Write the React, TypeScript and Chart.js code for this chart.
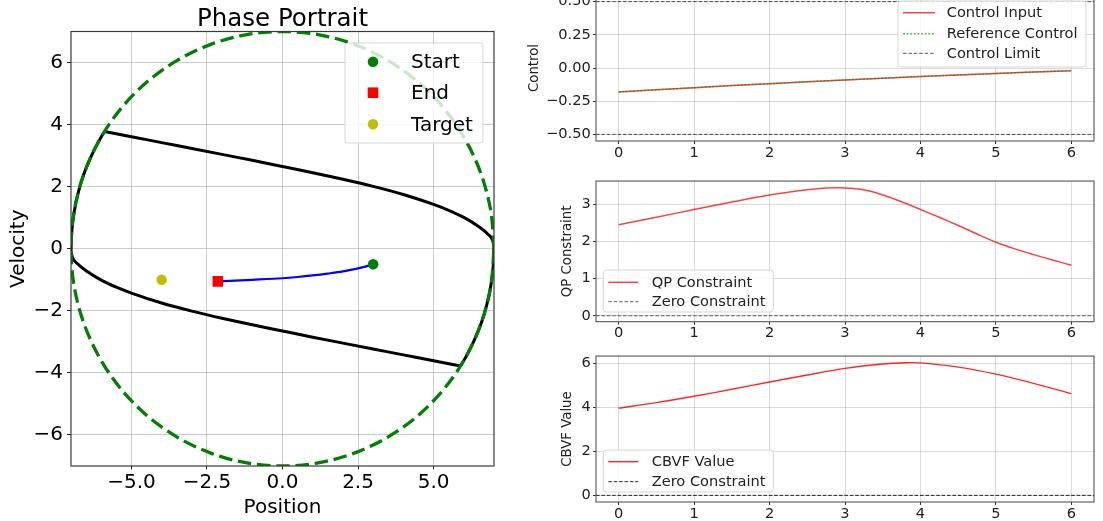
import React, { useEffect, useRef } from 'react';
import { Chart, registerables } from 'chart.js';

Chart.register(...registerables);

const FONT = "'DejaVu Sans', 'Liberation Sans', sans-serif";
Chart.defaults.font.family = FONT;

// ---------- Phase portrait (position, velocity) ----------
const START_STATE = [3.0, -0.5];
const END_STATE = [-2.14, -1.05];
const TARGET_STATE = [-4.0, -1.0];

// Closed-loop trajectory (listed by increasing position)
const TRAJ_POS = [-2.14, -1.0, 0.0, 0.5, 1.0, 1.5, 2.0, 2.5, 2.8, 3.0];
const TRAJ_VEL = [-1.05, -1.0, -0.95, -0.91, -0.86, -0.8, -0.73, -0.63, -0.56, -0.5];

// Safe-set boundary, upper branch
const UPPER_POS = [-5.89, -5, -4, -3, -2, -1, 0, 1, 2, 3, 4, 5, 5.5, 6, 6.5, 6.8, 6.95, 7.0];
const UPPER_VEL = [3.78, 3.61, 3.42, 3.23, 3.04, 2.85, 2.65, 2.45, 2.24, 2.01, 1.75, 1.43, 1.24, 1.01, 0.71, 0.47, 0.28, 0.1];
// Safe-set boundary, lower branch
const LOWER_POS = [-7.0, -6.95, -6.8, -6.5, -6, -5.5, -5, -4, -3, -2, -1, 0, 1, 2, 3, 4, 5, 5.89];
const LOWER_VEL = [-0.1, -0.28, -0.47, -0.71, -1.01, -1.24, -1.43, -1.75, -2.01, -2.24, -2.45, -2.65, -2.85, -3.04, -3.23, -3.42, -3.61, -3.78];
// Parts of the boundary lying on the constraint circle
const ARC_R_POS = [7.0, 6.97, 6.89, 6.76, 6.58, 6.34, 6.06, 5.89];
const ARC_R_VEL = [0.1, -0.61, -1.22, -1.81, -2.39, -2.96, -3.5, -3.78];
const ARC_L_POS = [-7.0, -6.97, -6.89, -6.76, -6.58, -6.34, -6.06, -5.89];
const ARC_L_VEL = [-0.1, 0.61, 1.22, 1.81, 2.39, 2.96, 3.5, 3.78];

// State constraint circle (radius 7), every 10 degrees
const CIRCLE_POS = [7, 6.894, 6.578, 6.062, 5.362, 4.5, 3.5, 2.394, 1.216, 0, -1.216, -2.394, -3.5, -4.5, -5.362, -6.062, -6.578, -6.894, -7, -6.894, -6.578, -6.062, -5.362, -4.5, -3.5, -2.394, -1.216, 0, 1.216, 2.394, 3.5, 4.5, 5.362, 6.062, 6.578, 6.894, 7];
const CIRCLE_VEL = [0, 1.216, 2.394, 3.5, 4.5, 5.362, 6.062, 6.578, 6.894, 7, 6.894, 6.578, 6.062, 5.362, 4.5, 3.5, 2.394, 1.216, 0, -1.216, -2.394, -3.5, -4.5, -5.362, -6.062, -6.578, -6.894, -7, -6.894, -6.578, -6.062, -5.362, -4.5, -3.5, -2.394, -1.216, 0];

const POS_RANGE = [-7, 7];
const VEL_RANGE = [-7, 7];
const POS_TICKS = [-5, -2.5, 0, 2.5, 5];
const VEL_TICKS = [-6, -4, -2, 0, 2, 4, 6];

// ---------- Time histories ----------
const CTRL_T = [0, 1, 2, 3, 4, 5, 6];
const CTRL_U = [-0.18, -0.148, -0.118, -0.09, -0.064, -0.041, -0.02];
const REF_U = [-0.18, -0.148, -0.118, -0.09, -0.064, -0.041, -0.02];
const U_LIMIT = 0.5;

const QP_T = [0, 0.5, 1, 1.5, 2, 2.5, 2.75, 3, 3.25, 3.5, 3.75, 4, 4.25, 4.5, 4.75, 5, 5.25, 5.5, 5.75, 6];
const QP_V = [2.45, 2.65, 2.86, 3.06, 3.25, 3.39, 3.435, 3.44, 3.39, 3.25, 3.07, 2.86, 2.65, 2.43, 2.2, 1.98, 1.8, 1.645, 1.5, 1.36];

const CBVF_T = [0, 0.5, 1, 1.5, 2, 2.5, 3, 3.5, 3.8, 4, 4.5, 5, 5.5, 6];
const CBVF_V = [3.97, 4.22, 4.51, 4.83, 5.16, 5.48, 5.78, 5.98, 6.04, 6.03, 5.84, 5.52, 5.1, 4.63];

const T_RANGE = [-0.3, 6.3];
const TIME_TICKS = [0, 1, 2, 3, 4, 5, 6];
const CTRL_RANGE = [-0.55, 0.55];
const CTRL_TICKS = [-0.5, -0.25, 0, 0.25, 0.5];
const QP_RANGE = [-0.16, 3.625];
const QP_TICKS = [0, 1, 2, 3];
const CBVF_RANGE = [-0.302, 6.342];
const CBVF_TICKS = [0, 2, 4, 6];

// ---------- helpers ----------
const pts = (xs: number[], ys: number[]) => xs.map((x, i) => ({ x, y: ys[i] }));
const hline = (v: number) => [{ x: T_RANGE[0], y: v }, { x: T_RANGE[1], y: v }];
const minus = (s: string) => s.replace('-', '\u2212');

const fixedTicks = (values: number[]) => (scale: any) => {
  scale.ticks = values.map((value) => ({ value }));
};

// Full rectangular axes frame drawn above the data
const framePlugin = (color: string, width: number) => ({
  id: 'frame',
  afterDatasetsDraw(chart: any) {
    const { ctx, chartArea: a } = chart;
    ctx.save();
    ctx.strokeStyle = color;
    ctx.lineWidth = width;
    ctx.strokeRect(a.left, a.top, a.right - a.left, a.bottom - a.top);
    ctx.restore();
  },
});

type LegendLayout = {
  x: number; y: number; w: number; h: number;
  sampleX: number; sampleW: number; textX: number;
  rows: number[]; fontSize: number; textColor: string; textShift: number;
};

// Boxed legend built from the chart's own datasets
const boxLegend = (indices: number[], lay: LegendLayout) => ({
  id: 'boxLegend',
  afterDraw(chart: any) {
    const ctx: CanvasRenderingContext2D = chart.ctx;
    const sets = chart.data.datasets;
    ctx.save();
    const r = 3;
    const { x, y, w, h } = lay;
    ctx.beginPath();
    ctx.moveTo(x + r, y);
    ctx.arcTo(x + w, y, x + w, y + h, r);
    ctx.arcTo(x + w, y + h, x, y + h, r);
    ctx.arcTo(x, y + h, x, y, r);
    ctx.arcTo(x, y, x + w, y, r);
    ctx.closePath();
    ctx.fillStyle = 'rgba(255,255,255,0.8)';
    ctx.fill();
    ctx.strokeStyle = 'rgba(204,204,204,0.8)';
    ctx.lineWidth = 1;
    ctx.stroke();

    indices.forEach((di, i) => {
      const ds = sets[di];
      const cy = lay.rows[i];
      const cx = lay.sampleX + lay.sampleW / 2;
      if (ds.showLine === false) {
        ctx.fillStyle = ds.pointBackgroundColor;
        ctx.beginPath();
        if (ds.pointStyle === 'rect') {
          const s = ds.pointRadius * Math.SQRT1_2;
          ctx.rect(cx - s, cy - s, 2 * s, 2 * s);
        } else {
          ctx.arc(cx, cy, ds.pointRadius, 0, Math.PI * 2);
        }
        ctx.fill();
      } else {
        ctx.strokeStyle = ds.borderColor;
        ctx.lineWidth = ds.borderWidth;
        ctx.setLineDash(ds.borderDash || []);
        ctx.beginPath();
        ctx.moveTo(lay.sampleX, cy);
        ctx.lineTo(lay.sampleX + lay.sampleW, cy);
        ctx.stroke();
        ctx.setLineDash([]);
      }
      ctx.fillStyle = lay.textColor;
      ctx.font = `${lay.fontSize}px ${FONT}`;
      ctx.textAlign = 'left';
      ctx.textBaseline = 'middle';
      ctx.fillText(ds.label, lay.textX, cy + lay.textShift);
    });
    ctx.restore();
  },
});

const marker = (label: string, p: number[], color: string, style: string, radius: number) => ({
  label,
  data: [{ x: p[0], y: p[1] }],
  showLine: false,
  pointStyle: style,
  pointRadius: radius,
  pointBackgroundColor: color,
  pointBorderWidth: 0,
  order: 0,
});

const boundary = (label: string, xs: number[], ys: number[], mode: 'monotone' | 'tension') => ({
  label,
  data: pts(xs, ys),
  borderColor: '#000000',
  borderWidth: 3,
  pointRadius: 0,
  cubicInterpolationMode: mode === 'monotone' ? 'monotone' : 'default',
  tension: mode === 'monotone' ? 0 : 0.33,
  order: 3,
});

// ---------- Phase portrait chart ----------
function phaseConfig(): any {
  const GRID = 'rgba(176,176,176,0.65)';
  return {
    type: 'line',
    data: {
      datasets: [
        marker('Start', START_STATE, '#008000', 'circle', 5.3),
        marker('End', END_STATE, '#ff0000', 'rect', 7.5),
        marker('Target', TARGET_STATE, '#bfbf00', 'circle', 5.2),
        {
          label: 'Trajectory',
          data: pts(TRAJ_POS, TRAJ_VEL),
          borderColor: '#0000ff',
          borderWidth: 2.2,
          pointRadius: 0,
          cubicInterpolationMode: 'monotone',
          order: 1,
        },
        {
          label: 'State Constraint',
          data: pts(CIRCLE_POS, CIRCLE_VEL),
          borderColor: '#008000',
          borderWidth: 3.3,
          borderDash: [13.5, 5.8],
          pointRadius: 0,
          tension: 0.33,
          order: 2,
        },
        boundary('Safe Set Upper', UPPER_POS, UPPER_VEL, 'monotone'),
        boundary('Safe Set Lower', LOWER_POS, LOWER_VEL, 'monotone'),
        boundary('Safe Set Right', ARC_R_POS, ARC_R_VEL, 'tension'),
        boundary('Safe Set Left', ARC_L_POS, ARC_L_VEL, 'tension'),
      ],
    },
    options: {
      animation: false,
      responsive: false,
      maintainAspectRatio: false,
      events: [],
      elements: { line: { capBezierPoints: false } },
      layout: { padding: { left: 0, right: 26, top: 0, bottom: 0 } },
      plugins: {
        legend: { display: false },
        tooltip: { enabled: false },
        title: {
          display: true,
          text: 'Phase Portrait',
          fullSize: false,
          color: '#000',
          font: { family: FONT, size: 24.5, weight: 'normal', lineHeight: 1 },
          padding: { top: 7, bottom: 0 },
        },
      },
      scales: {
        x: {
          type: 'linear',
          min: POS_RANGE[0],
          max: POS_RANGE[1],
          afterBuildTicks: fixedTicks(POS_TICKS),
          afterFit: (s: any) => { s.height = 55; },
          border: { display: false },
          grid: { color: GRID, lineWidth: 1, drawTicks: true, tickLength: 3.5, tickColor: '#222', tickWidth: 1 },
          ticks: {
            color: '#000', padding: 1.5, autoSkip: false, maxRotation: 0,
            font: { family: FONT, size: 20 },
            callback: (v: number) => minus(v.toFixed(1)),
          },
          title: { display: true, text: 'Position', color: '#000', font: { family: FONT, size: 20 }, padding: { top: 0, bottom: 1 } },
        },
        y: {
          type: 'linear',
          min: VEL_RANGE[0],
          max: VEL_RANGE[1],
          afterBuildTicks: fixedTicks(VEL_TICKS),
          afterFit: (s: any) => { s.width = 71; },
          border: { display: false },
          grid: { color: GRID, lineWidth: 1, drawTicks: true, tickLength: 4, tickColor: '#222', tickWidth: 1 },
          ticks: {
            color: '#000', padding: 4, autoSkip: false,
            font: { family: FONT, size: 20 },
            callback: (v: number) => minus(String(v)),
          },
          title: { display: true, text: 'Velocity', color: '#000', font: { family: FONT, size: 20 }, padding: { top: 6.3, bottom: 0 } },
        },
      },
    },
    plugins: [
      framePlugin('#3a3a3a', 1.2),
      boxLegend([0, 1, 2], {
        x: 345, y: 43, w: 138, h: 100,
        sampleX: 363, sampleW: 20, textX: 411,
        rows: [61.7, 92.7, 124.3], fontSize: 20, textColor: '#000', textShift: 1,
      }),
    ],
  };
}

// ---------- Time-history charts ----------
type PanelSpec = {
  datasets: any[];
  yRange: number[];
  yTicks: number[];
  yFmt: (v: number) => string;
  yTitle: string;
  titlePad: number;
  padTop: number;
  xHeight: number;
  legendIdx: number[];
  legend: LegendLayout;
};

function panelConfig(p: PanelSpec): any {
  const GRID = 'rgba(176,176,176,0.45)';
  return {
    type: 'line',
    data: { datasets: p.datasets },
    options: {
      animation: false,
      responsive: false,
      maintainAspectRatio: false,
      events: [],
      layout: { padding: { left: 0, right: 9, top: p.padTop, bottom: 0 } },
      plugins: { legend: { display: false }, tooltip: { enabled: false } },
      scales: {
        x: {
          type: 'linear',
          min: T_RANGE[0],
          max: T_RANGE[1],
          afterBuildTicks: fixedTicks(TIME_TICKS),
          afterFit: (s: any) => { s.height = p.xHeight; },
          border: { display: false },
          grid: { color: GRID, lineWidth: 1, drawTicks: true, tickLength: 3, tickColor: '#333', tickWidth: 1 },
          ticks: {
            color: '#222', padding: 0, autoSkip: false, maxRotation: 0,
            font: { family: FONT, size: 14.6 },
            callback: (v: number) => minus(String(v)),
          },
        },
        y: {
          type: 'linear',
          min: p.yRange[0],
          max: p.yRange[1],
          afterBuildTicks: fixedTicks(p.yTicks),
          afterFit: (s: any) => { s.width = 76; },
          border: { display: false },
          grid: { color: GRID, lineWidth: 1, drawTicks: true, tickLength: 3, tickColor: '#333', tickWidth: 1 },
          ticks: {
            color: '#222', padding: 2.3, autoSkip: false,
            font: { family: FONT, size: 14.6 },
            callback: p.yFmt,
          },
          title: { display: true, text: p.yTitle, color: '#222', font: { family: FONT, size: 13.3 }, padding: { top: p.titlePad, bottom: 0 } },
        },
      },
    },
    plugins: [framePlugin('#555555', 1.1), boxLegend(p.legendIdx, p.legend)],
  };
}

const RED = 'rgba(255,0,0,0.75)';
const DASH = [3.6, 1.8];

function controlConfig() {
  return panelConfig({
    datasets: [
      { label: 'Control Input', data: pts(CTRL_T, CTRL_U), borderColor: RED, borderWidth: 1.5, pointRadius: 0, tension: 0.3, order: 1 },
      { label: 'Reference Control', data: pts(CTRL_T, REF_U), borderColor: 'rgba(0,150,0,0.6)', borderWidth: 1.5, borderDash: [2, 1.6], pointRadius: 0, tension: 0.3, order: 0 },
      { label: 'Control Limit', data: hline(U_LIMIT), borderColor: 'rgba(0,0,0,0.65)', borderWidth: 1, borderDash: DASH, pointRadius: 0, order: 2 },
      { label: 'Control Limit (min)', data: hline(-U_LIMIT), borderColor: 'rgba(0,0,0,0.65)', borderWidth: 1, borderDash: DASH, pointRadius: 0, order: 2 },
    ],
    yRange: CTRL_RANGE,
    yTicks: CTRL_TICKS,
    yFmt: (v: number) => minus(v.toFixed(2)),
    yTitle: 'Control',
    titlePad: 7,
    padTop: 15,
    xHeight: 29,
    legendIdx: [0, 1, 2],
    legend: {
      x: 378, y: 21, w: 188, h: 66,
      sampleX: 383, sampleW: 32, textX: 426.7,
      rows: [32.7, 53.7, 73.3], fontSize: 14.6, textColor: '#222', textShift: 1,
    },
  });
}

function qpConfig() {
  return panelConfig({
    datasets: [
      { label: 'QP Constraint', data: pts(QP_T, QP_V), borderColor: RED, borderWidth: 1.5, pointRadius: 0, tension: 0.3, order: 0 },
      { label: 'Zero Constraint', data: hline(0), borderColor: 'rgba(0,0,0,0.6)', borderWidth: 1, borderDash: DASH, pointRadius: 0, order: 1 },
    ],
    yRange: QP_RANGE,
    yTicks: QP_TICKS,
    yFmt: (v: number) => minus(String(v)),
    yTitle: 'QP Constraint',
    titlePad: 40,
    padTop: 4.3,
    xHeight: 23.3,
    legendIdx: [0, 1],
    legend: {
      x: 83.3, y: 100, w: 170, h: 42,
      sampleX: 88.3, sampleW: 30, textX: 131.7,
      rows: [112.3, 131.7], fontSize: 14.6, textColor: '#222', textShift: 1,
    },
  });
}

function cbvfConfig() {
  return panelConfig({
    datasets: [
      { label: 'CBVF Value', data: pts(CBVF_T, CBVF_V), borderColor: 'rgba(255,0,0,0.85)', borderWidth: 1.4, pointRadius: 0, tension: 0.3, order: 0 },
      { label: 'Zero Constraint', data: hline(0), borderColor: 'rgba(0,0,0,0.85)', borderWidth: 1, borderDash: DASH, pointRadius: 0, order: 1 },
    ],
    yRange: CBVF_RANGE,
    yTicks: CBVF_TICKS,
    yFmt: (v: number) => minus(String(v)),
    yTitle: 'CBVF Value',
    titlePad: 40,
    padTop: 10.7,
    xHeight: 19,
    legendIdx: [0, 1],
    legend: {
      x: 83.3, y: 105, w: 170, h: 42,
      sampleX: 88.3, sampleW: 30, textX: 131.7,
      rows: [116.7, 136.7], fontSize: 14.6, textColor: '#222', textShift: 1,
    },
  });
}

function ChartCanvas({ left, top, width, height, make }: { left: number; top: number; width: number; height: number; make: () => any }) {
  const ref = useRef<HTMLCanvasElement>(null);
  useEffect(() => {
    const chart = new Chart(ref.current as HTMLCanvasElement, make());
    return () => chart.destroy();
  }, [make]);
  return (
    <canvas
      ref={ref}
      width={width}
      height={height}
      style={{ position: 'absolute', left, top, width, height, display: 'block' }}
    />
  );
}

export default function App() {
  return (
    <div
      style={{
        position: 'absolute',
        left: 0,
        top: 0,
        width: 1103,
        height: 521,
        overflow: 'hidden',
        background: '#ffffff',
      }}
    >
      <ChartCanvas left={0} top={0} width={520} height={521} make={phaseConfig} />
      <ChartCanvas left={520} top={-20} width={583} height={190} make={controlConfig} />
      <ChartCanvas left={520} top={170} width={583} height={175} make={qpConfig} />
      <ChartCanvas left={520} top={345} width={583} height={176} make={cbvfConfig} />
    </div>
  );
}
